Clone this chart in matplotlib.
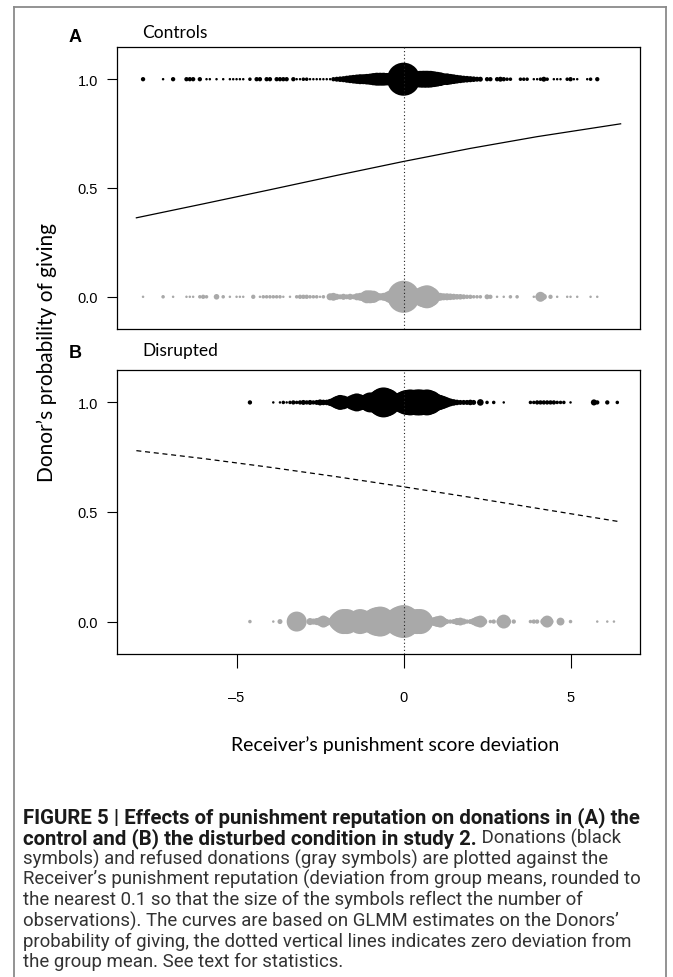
import matplotlib
matplotlib.use("Agg")
import matplotlib.pyplot as plt
from matplotlib.lines import Line2D

W, H = 673, 978

# (deviation rounded to 0.1, number of observations)
ctrl_give = [(-7.8, 3), (-7.2, 1), (-6.9, 3), (-6.5, 3), (-6.4, 3), (-6.3, 3), (-6.1, 3),
             (-5.9, 1), (-5.8, 1), (-5.6, 1), (-5.4, 1), (-5.2, 1), (-5.1, 1), (-5.0, 1),
             (-4.9, 1), (-4.8, 1), (-4.6, 2), (-4.4, 3), (-4.3, 3), (-4.1, 3), (-4.0, 3),
             (-3.8, 3), (-3.7, 3), (-3.6, 3), (-3.5, 3), (-3.3, 3), (-3.2, 1), (-3.1, 1),
             (-3.0, 2), (-2.9, 2), (-2.8, 1), (-2.7, 1), (-2.6, 1), (-2.5, 1), (-2.4, 1),
             (-2.3, 1), (-2.2, 1), (-2.1, 3), (-2.0, 4), (-1.9, 5), (-1.8, 6), (-1.7, 8),
             (-1.6, 10), (-1.5, 12), (-1.4, 14), (-1.3, 16), (-1.2, 16), (-1.1, 18),
             (-1.0, 20), (-0.9, 24), (-0.8, 27), (-0.7, 27), (-0.6, 27), (-0.5, 25),
             (-0.4, 25), (-0.3, 25), (-0.2, 30), (-0.1, 40), (0.0, 175), (0.1, 40),
             (0.2, 30), (0.3, 35), (0.4, 40), (0.5, 45), (0.6, 46), (0.7, 46), (0.8, 45),
             (0.9, 40), (1.0, 35), (1.1, 30), (1.2, 22), (1.3, 22), (1.4, 18), (1.5, 15),
             (1.6, 12), (1.7, 10), (1.8, 8), (1.9, 7), (2.0, 6), (2.1, 5), (2.2, 4),
             (2.3, 4), (2.5, 3), (2.6, 3), (2.8, 3), (2.9, 4), (3.0, 3), (3.1, 2), (3.2, 2),
             (3.5, 2), (3.6, 2), (3.7, 2), (3.9, 1), (4.0, 1), (4.1, 2), (4.2, 4), (4.3, 2),
             (4.5, 1), (4.6, 1), (4.7, 1), (4.9, 2), (5.0, 3), (5.1, 1), (5.2, 1), (5.5, 1),
             (5.6, 2), (5.8, 3)]

ctrl_refuse = [(-7.8, 1), (-7.2, 2), (-6.9, 1), (-6.5, 1), (-6.4, 1), (-6.3, 1), (-6.1, 2),
               (-6.0, 3), (-5.9, 2), (-5.6, 5), (-5.4, 2), (-5.2, 1), (-5.0, 1), (-4.9, 1),
               (-4.8, 1), (-4.5, 3), (-4.3, 1), (-4.2, 2), (-4.1, 2), (-4.0, 2), (-3.9, 2),
               (-3.8, 2), (-3.7, 2), (-3.6, 1), (-3.4, 1), (-3.2, 2), (-3.1, 3), (-3.0, 3),
               (-2.9, 3), (-2.8, 2), (-2.7, 2), (-2.6, 2), (-2.5, 1), (-2.4, 2), (-2.2, 8),
               (-2.1, 10), (-2.0, 6), (-1.9, 4), (-1.8, 6), (-1.7, 4), (-1.6, 6), (-1.5, 4),
               (-1.4, 8), (-1.3, 10), (-1.2, 14), (-1.1, 27), (-1.0, 27), (-0.9, 24),
               (-0.8, 12), (-0.7, 8), (-0.6, 10), (-0.5, 14), (-0.4, 25), (-0.3, 30),
               (-0.2, 60), (-0.1, 100), (0.0, 165), (0.1, 100), (0.2, 60), (0.3, 40),
               (0.4, 30), (0.5, 50), (0.6, 70), (0.7, 85), (0.8, 60), (0.9, 25), (1.0, 14),
               (1.1, 10), (1.2, 8), (1.3, 8), (1.4, 7), (1.5, 6), (1.6, 5), (1.7, 5),
               (1.8, 4), (1.9, 3), (2.0, 3), (2.1, 2), (2.2, 2), (2.3, 2), (2.5, 4),
               (2.6, 3), (2.8, 1), (3.0, 1), (3.2, 2), (3.4, 2), (3.9, 1), (4.0, 2),
               (4.1, 16), (4.2, 6), (4.4, 3), (4.6, 1), (4.9, 1), (5.0, 1), (5.2, 1),
               (5.6, 1), (5.8, 1)]

dis_give = [(-4.6, 3), (-3.9, 1), (-3.7, 1), (-3.6, 2), (-3.5, 1), (-3.4, 2), (-3.3, 3),
            (-3.2, 2), (-3.1, 3), (-3.0, 4), (-2.9, 3), (-2.8, 4), (-2.7, 3), (-2.6, 4),
            (-2.5, 6), (-2.4, 5), (-2.3, 5), (-2.2, 8), (-2.1, 14), (-2.0, 25), (-1.9, 36),
            (-1.8, 30), (-1.7, 20), (-1.6, 25), (-1.5, 40), (-1.4, 52), (-1.3, 40),
            (-1.2, 30), (-1.1, 45), (-1.0, 64), (-0.9, 50), (-0.8, 60), (-0.7, 110),
            (-0.6, 144), (-0.5, 120), (-0.4, 70), (-0.3, 50), (-0.2, 45), (-0.1, 60),
            (0.0, 80), (0.1, 100), (0.2, 108), (0.3, 100), (0.4, 108), (0.5, 108),
            (0.6, 100), (0.7, 108), (0.8, 90), (0.9, 60), (1.0, 45), (1.1, 35), (1.2, 25),
            (1.3, 16), (1.4, 10), (1.5, 7), (1.6, 5), (1.7, 4), (1.8, 4), (1.9, 4),
            (2.0, 5), (2.1, 4), (2.3, 7), (2.5, 2), (2.7, 2), (3.0, 1), (3.8, 2), (3.9, 2),
            (4.0, 3), (4.1, 3), (4.2, 3), (4.3, 3), (4.4, 3), (4.5, 3), (4.6, 2), (4.7, 2),
            (4.8, 2), (5.0, 1), (5.7, 6), (5.8, 3), (6.1, 3), (6.4, 2)]

dis_refuse = [(-4.6, 2), (-3.9, 1), (-3.7, 4), (-3.3, 20), (-3.2, 64), (-3.1, 20),
              (-2.8, 8), (-2.7, 6), (-2.6, 8), (-2.5, 12), (-2.4, 23), (-2.3, 12),
              (-2.1, 16), (-2.0, 40), (-1.9, 70), (-1.8, 100), (-1.7, 100), (-1.6, 50),
              (-1.5, 30), (-1.4, 60), (-1.3, 100), (-1.2, 80), (-1.1, 40), (-1.0, 60),
              (-0.9, 100), (-0.8, 130), (-0.7, 144), (-0.6, 100), (-0.5, 50), (-0.4, 40),
              (-0.3, 60), (-0.2, 100), (-0.1, 150), (0.0, 174), (0.1, 130), (0.2, 90),
              (0.3, 80), (0.4, 100), (0.5, 100), (0.6, 60), (0.7, 20), (0.8, 10),
              (0.9, 12), (1.0, 18), (1.1, 23), (1.2, 10), (1.3, 4), (1.4, 3), (1.5, 4),
              (1.6, 8), (1.7, 10), (1.8, 6), (1.9, 3), (2.0, 4), (2.1, 8), (2.2, 16),
              (2.3, 23), (2.4, 8), (2.6, 2), (2.7, 3), (2.9, 10), (3.0, 31), (3.1, 10),
              (3.3, 3), (3.8, 2), (3.9, 3), (4.0, 3), (4.2, 8), (4.3, 23), (4.4, 6),
              (4.7, 10), (5.0, 2), (5.8, 1), (6.1, 1), (6.3, 1)]

# GLMM curves, read at a few points
curve_x = [-8, -6, -4, -2, 0, 2, 4, 6.5]
ctrl_curve_y = [0.363, 0.427, 0.492, 0.558, 0.622, 0.682, 0.736, 0.795]
dis_curve_y = [0.780, 0.744, 0.704, 0.661, 0.615, 0.567, 0.517, 0.455]

xticks = [-5, 0, 5]
xticklabels = ["\u20135", "0", "5"]
yticks = [0.0, 0.5, 1.0]
yticklabels = ["0.0", "0.5", "1.0"]

GRAY = "#a9a9a9"
TICKFONT = "Liberation Sans"
LABFONT = "Lato"

fig = plt.figure(figsize=(W / 100, H / 100), dpi=100)


def box(l, t, r, b):
    return [l / W, 1 - b / H, (r - l) / W, (b - t) / H]


def size(n):
    # symbol area grows with number of observations
    d_px = 2.5 * n ** 0.5
    return (d_px * 0.72) ** 2


def panel(ax, give, refuse, cx, cy, ls):
    gx, gn = zip(*give)
    rx, rn = zip(*refuse)
    ax.scatter(gx, [1.0] * len(gx), s=[size(n) for n in gn], color="black",
               linewidths=0, zorder=2)
    ax.scatter(rx, [0.0] * len(rx), s=[size(n) for n in rn], color=GRAY,
               linewidths=0, zorder=2)
    ax.plot(cx, cy, color="black", lw=0.9, linestyle=ls, zorder=3)
    ax.axvline(0, color="#222222", lw=0.8, linestyle=(0, (1, 2.2)), zorder=4)
    ax.set_xlim(-8.58, 7.08)
    ax.set_ylim(-0.148, 1.148)
    ax.set_yticks(yticks)
    ax.set_yticklabels(yticklabels, fontfamily=TICKFONT, fontsize=10.5)
    ax.tick_params(axis="y", length=7.5, width=0.8, pad=6)
    for sp in ax.spines.values():
        sp.set_linewidth(0.9)


ax1 = fig.add_axes(box(117, 48, 640, 330))
panel(ax1, ctrl_give, ctrl_refuse, curve_x, ctrl_curve_y, "-")
ax1.set_xticks([])

ax2 = fig.add_axes(box(117, 371, 640, 655))
panel(ax2, dis_give, dis_refuse, curve_x, dis_curve_y, (0, (4, 3)))
ax2.set_xticks(xticks)
ax2.set_xticklabels(xticklabels, fontfamily=TICKFONT, fontsize=10.5)
ax2.tick_params(axis="x", length=10, width=0.8, pad=16)


def ptext(x, y, s, **kw):
    return fig.text(x / W, 1 - y / H, s, **kw)


ptext(75, 38, "A", fontfamily=TICKFONT, fontweight="bold", fontsize=13,
      ha="center", va="center")
ptext(142, 33, "Controls", fontfamily=LABFONT, fontsize=12.5, va="center")
ptext(75, 353, "B", fontfamily=TICKFONT, fontweight="bold", fontsize=13,
      ha="center", va="center")
ptext(142, 351, "Disrupted", fontfamily=LABFONT, fontsize=12.5, va="center")
ptext(47, 352, "Donor\u2019s probability of giving", fontfamily=LABFONT,
      fontsize=15, rotation=90, ha="center", va="center")
ptext(395, 745, "Receiver\u2019s punishment score deviation", fontfamily=LABFONT,
      fontsize=14, ha="center", va="center")

# outer frame
fc = "#8a8a8a"
for xs, ys in [([14, 14], [8, 990]), ([14, 666], [8, 8]), ([666, 666], [8, 990])]:
    fig.add_artist(Line2D([x / W for x in xs], [1 - y / H for y in ys],
                          color=fc, lw=1.3, transform=fig.transFigure))

# caption
cap_font = "Roboto"
lines = [
    ("FIGURE 5 | Effects of punishment reputation on donations in (A) the", ""),
    ("control and (B) the disturbed condition in study 2.", " Donations (black"),
    ("", "symbols) and refused donations (gray symbols) are plotted against the"),
    ("", "Receiver\u2019s punishment reputation (deviation from group means, rounded to"),
    ("", "the nearest 0.1 so that the size of the symbols reflect the number of"),
    ("", "observations). The curves are based on GLMM estimates on the Donors\u2019"),
    ("", "probability of giving, the dotted vertical lines indicates zero deviation from"),
    ("", "the group mean. See text for statistics."),
]
r = fig.canvas.get_renderer()
tb = ptext(0, 0, lines[0][0], fontfamily=cap_font, fontweight="bold", fontsize=10)
bw = tb.get_window_extent(r).width
tb.remove()
tr = ptext(0, 0, lines[3][1], fontfamily=cap_font, fontsize=10)
rw = tr.get_window_extent(r).width
tr.remove()
bold_fs = 10 * 616 / bw
reg_fs = 10 * 622 / rw

x0, y0, dy = 23, 818, 20.6
for i, (b, t) in enumerate(lines):
    y = y0 + i * dy
    x = x0
    if b:
        tb = ptext(x, y, b, fontfamily=cap_font, fontweight="bold", fontsize=bold_fs,
                   va="center", color="#1a1a1a")
        x += tb.get_window_extent(r).width
    if t:
        ptext(x, y, t, fontfamily=cap_font, fontsize=reg_fs, va="center", color="#333333")

fig.savefig("out.png", dpi=100)
